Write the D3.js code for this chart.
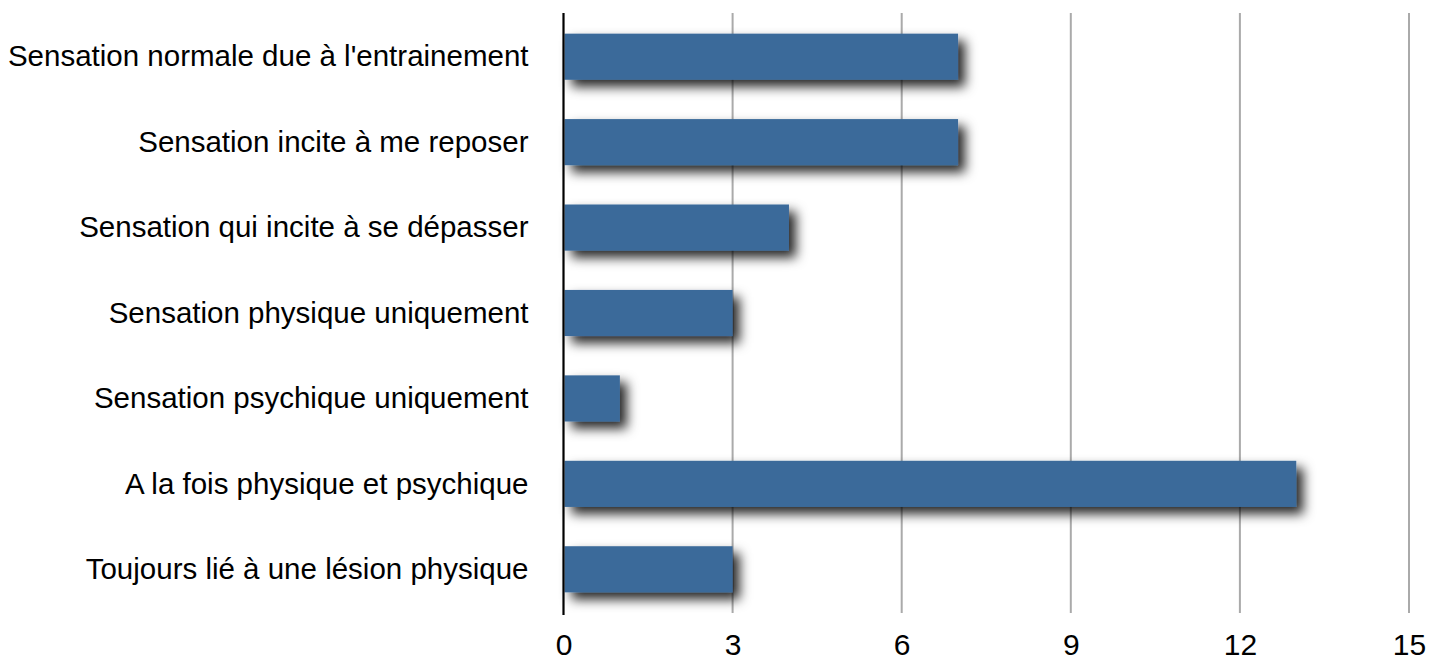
<!DOCTYPE html>
<html>
<head>
<meta charset="utf-8">
<script src="https://cdn.jsdelivr.net/npm/d3@7"></script>
<style>
  body { margin: 0; background: #fff; }
  text { font-family: "Liberation Sans", Arial, sans-serif; fill: #000; }
</style>
</head>
<body>
<div class="chart"></div>
<script>
// data
var categories = [
  "Sensation normale due à l'entrainement",
  "Sensation incite à me reposer",
  "Sensation qui incite à se dépasser",
  "Sensation physique uniquement",
  "Sensation psychique uniquement",
  "A la fois physique et psychique",
  "Toujours lié à une lésion physique"
];
var values = [7, 7, 4, 3, 1, 13, 3];
var tickValues = [0, 3, 6, 9, 12, 15];

var svgWidth = 1443;
var svgHeight = 660;

var svg = d3.select('.chart')
  .append('svg')
  .attr('width', svgWidth)
  .attr('height', svgHeight);

// drop shadow like the original
var defs = svg.append('defs');
var filter = defs.append('filter')
  .attr('id', 'shadow')
  .attr('filterUnits', 'userSpaceOnUse')
  .attr('x', 0).attr('y', 0)
  .attr('width', svgWidth).attr('height', svgHeight);
filter.append('feDropShadow')
  .attr('dx', 7).attr('dy', 7)
  .attr('stdDeviation', 6)
  .attr('flood-color', '#000')
  .attr('flood-opacity', 0.85);

var x = d3.scaleLinear().domain([0, 15]).range([563.5, 1409]);
var y = d3.scaleBand().domain(categories).range([14, 612]).paddingInner(0.46).paddingOuter(0.23);

// grid lines
svg.append('g')
  .selectAll('line')
  .data(tickValues.slice(1))
  .enter()
  .append('line')
  .attr('x1', function(d) { return x(d); })
  .attr('x2', function(d) { return x(d); })
  .attr('y1', 13)
  .attr('y2', 613)
  .attr('stroke', '#aaaaaa')
  .attr('stroke-width', 2);

// bars
svg.append('g')
  .selectAll('rect')
  .data(values)
  .enter()
  .append('rect')
  .attr('x', x(0) + 1)
  .attr('y', function(d, i) { return y(categories[i]); })
  .attr('width', function(d) { return x(d) - x(0) - 1; })
  .attr('height', y.bandwidth())
  .attr('fill', '#3b6a9a')
  .attr('filter', 'url(#shadow)');

// left axis line
svg.append('line')
  .attr('x1', x(0)).attr('x2', x(0))
  .attr('y1', 13).attr('y2', 615)
  .attr('stroke', '#000')
  .attr('stroke-width', 2.2);

// bottom tick labels
var bottomAxis = d3.axisBottom(x).tickValues(tickValues).tickSize(0).tickPadding(0);
var gx = svg.append('g')
  .attr('transform', 'translate(0,' + 655 + ')')
  .call(bottomAxis);
gx.select('.domain').remove();
gx.selectAll('text')
  .attr('y', 0)
  .attr('dy', 0)
  .style('font-size', '30px')
  .style('font-family', '"Liberation Sans", Arial, sans-serif')
  .attr('fill', '#000');

// category labels
var leftAxis = d3.axisLeft(y).tickSize(0).tickPadding(35);
var gy = svg.append('g')
  .attr('transform', 'translate(' + x(0) + ',0)')
  .call(leftAxis);
gy.select('.domain').remove();
gy.selectAll('text')
  .attr('dy', '0.33em')
  .style('font-size', '29.5px')
  .style('font-family', '"Liberation Sans", Arial, sans-serif')
  .attr('fill', '#000');
</script>
</body>
</html>
